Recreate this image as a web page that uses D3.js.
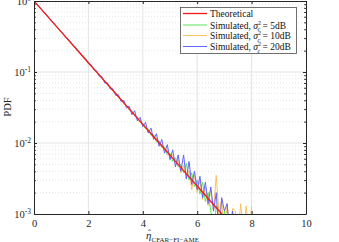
<!DOCTYPE html>
<html>
<head>
<meta charset="utf-8">
<script src="https://cdn.jsdelivr.net/npm/d3@7"></script>
<style>
  body { margin: 0; background: #fff; }
  svg { display: block; font-family: "Liberation Serif", "DejaVu Serif", serif; }
</style>
</head>
<body>
<div id="chart"></div>
<script>
var width = 339;
var height = 242;

// bin centres of the simulated histograms, step 0.1 from 0 to 8
var binX = d3.range(0, 81).map(function(i) { return i / 10; });

// theoretical curve, read at 0.5 steps
var theoX = [0, 0.5, 1, 1.5, 2, 2.5, 3, 3.5, 4, 4.5, 5, 5.5, 6, 6.5, 7];
var theoY = [1, 0.607, 0.368, 0.223, 0.135, 0.0821, 0.0498, 0.0302, 0.0183, 0.0111,
             0.00674, 0.00409, 0.00248, 0.00150, 0.00091];

var sim5 = [1.000,0.903,0.822,0.738,0.672,0.604,0.551,0.495,0.451,0.405,
            0.369,0.331,0.303,0.271,0.249,0.221,0.204,0.181,0.167,0.148,
            0.136,0.121,0.112,0.098,0.092,0.081,0.075,0.066,0.062,0.054,
            0.0505,0.0442,0.0415,0.0360,0.0340,0.0295,0.0280,0.0240,0.0230,0.0196,
            0.0190,0.0158,0.0156,0.0128,0.0130,0.0104,0.0108,0.0086,0.0088,0.0068,
            0.0072,0.0055,0.0062,0.0046,0.0050,0.0038,0.0052,0.0030,0.0038,0.0024,
            0.0030,0.0019,0.0028,0.0015,0.0020,0.0011,0.0005,0.0013,0.0010,0.0005,
            0.0011,0.0005,0.0005,0.0005,0.0005,0.0005,0.0005,0.0005,0.0005,0.0005,
            0.0005];

var sim10 = [1.002,0.906,0.816,0.744,0.668,0.609,0.547,0.499,0.447,0.409,
             0.366,0.335,0.299,0.275,0.245,0.225,0.200,0.185,0.163,0.152,
             0.133,0.124,0.109,0.102,0.089,0.084,0.072,0.069,0.059,0.056,
             0.0490,0.0462,0.0398,0.0380,0.0322,0.0312,0.0262,0.0256,0.0214,0.0210,
             0.0176,0.0172,0.0142,0.0142,0.0115,0.0118,0.0093,0.0097,0.0076,0.0081,
             0.0061,0.0068,0.0048,0.0058,0.0038,0.0049,0.0032,0.0041,0.0022,0.0036,
             0.0020,0.0030,0.0016,0.0024,0.0013,0.0022,0.0011,0.0035,0.0010,0.0016,
             0.0005,0.0014,0.0005,0.0012,0.0011,0.0005,0.0014,0.0005,0.0013,0.0005,
             0.0013];

var sim20 = [0.998,0.908,0.815,0.745,0.666,0.611,0.545,0.501,0.446,0.411,
             0.364,0.337,0.297,0.277,0.243,0.227,0.198,0.187,0.161,0.153,
             0.131,0.126,0.107,0.104,0.087,0.086,0.070,0.071,0.058,0.058,
             0.0470,0.0480,0.0385,0.0400,0.0312,0.0330,0.0250,0.0285,0.0205,0.0230,
             0.0170,0.0195,0.0138,0.0162,0.0112,0.0135,0.0090,0.0112,0.0072,0.0095,
             0.0058,0.0080,0.0046,0.0068,0.0040,0.0068,0.0031,0.0055,0.0026,0.0040,
             0.0022,0.0034,0.0017,0.0028,0.0014,0.0024,0.0011,0.0020,0.0005,0.0017,
             0.0011,0.0014,0.0005,0.0011,0.0005,0.0005,0.0005,0.0005,0.0005,0.0005,
             0.0005];

var xTicks = [0, 2, 4, 6, 8, 10];
var yTicks = [1, 0.1, 0.01, 0.001];
var yExp = ['0', '-1', '-2', '-3'];

var legendNames = ['Theoretical', '5dB', '10dB', '20dB'];
var colors = ['rgb(245,25,25)', 'rgb(90,230,90)', 'rgb(245,195,100)', 'rgb(100,100,255)'];

var pLeft = 34, pRight = 306, pTop = 1, pBottom = 214;

var x = d3.scaleLinear().domain([0, 10]).range([pLeft, pRight]);
var y = d3.scaleLog().domain([1e-3, 1]).range([pBottom, pTop]);

var svg = d3.select('#chart').append('svg')
    .attr('width', width)
    .attr('height', height);

svg.append('defs').append('clipPath').attr('id', 'clip')
    .append('rect')
    .attr('x', pLeft).attr('y', pTop)
    .attr('width', pRight - pLeft).attr('height', pBottom - pTop);

// minor grid (dotted)
var minorY = [];
[0.001, 0.01, 0.1].forEach(function(d) {
    for (var k = 2; k <= 9; k++) minorY.push(d * k);
});
svg.append('g').selectAll('line')
    .data(minorY).enter().append('line')
    .attr('x1', pLeft).attr('x2', pRight)
    .attr('y1', function(d) { return y(d); })
    .attr('y2', function(d) { return y(d); })
    .attr('stroke', '#dedede')
    .attr('stroke-width', 0.8)
    .attr('stroke-dasharray', '1,2');

// major grid
svg.append('g').selectAll('line')
    .data([2, 4, 6, 8]).enter().append('line')
    .attr('x1', function(d) { return x(d); })
    .attr('x2', function(d) { return x(d); })
    .attr('y1', pTop).attr('y2', pBottom)
    .attr('stroke', '#e3e3e3');
svg.append('g').selectAll('line')
    .data([0.1, 0.01]).enter().append('line')
    .attr('x1', pLeft).attr('x2', pRight)
    .attr('y1', function(d) { return y(d); })
    .attr('y2', function(d) { return y(d); })
    .attr('stroke', '#e3e3e3');

// curves
var line = d3.line()
    .x(function(d) { return x(d[0]); })
    .y(function(d) { return y(d[1]); });

var plot = svg.append('g').attr('clip-path', 'url(#clip)');
[sim5, sim10, sim20].forEach(function(s, i) {
    plot.append('path')
        .datum(binX.map(function(v, j) { return [v, s[j]]; }))
        .attr('d', line)
        .attr('fill', 'none')
        .attr('stroke', colors[i + 1])
        .attr('stroke-width', 1);
});
plot.append('path')
    .datum(theoX.map(function(v, j) { return [v, theoY[j]]; }))
    .attr('d', line)
    .attr('fill', 'none')
    .attr('stroke', colors[0])
    .attr('stroke-width', 1.3);

// axes
var axisColor = '#262626';
var xAxis = svg.append('g')
    .attr('transform', 'translate(0,' + pBottom + ')')
    .call(d3.axisBottom(x).tickValues(xTicks).tickSizeInner(-3).tickSizeOuter(0).tickPadding(6));
svg.append('g')
    .attr('transform', 'translate(0,' + pTop + ')')
    .call(d3.axisTop(x).tickValues(xTicks).tickSizeInner(-3).tickSizeOuter(0).tickFormat(''));

var yAll = yTicks.concat(minorY);
svg.append('g')
    .attr('transform', 'translate(' + pLeft + ',0)')
    .call(d3.axisLeft(y).tickValues(yAll).tickSizeInner(-3).tickSizeOuter(0).tickFormat(''));
svg.append('g')
    .attr('transform', 'translate(' + pRight + ',0)')
    .call(d3.axisRight(y).tickValues(yAll).tickSizeInner(-3).tickSizeOuter(0).tickFormat(''));

svg.selectAll('.domain').attr('stroke', axisColor);
svg.selectAll('.tick line').attr('stroke', axisColor);
svg.selectAll('.tick').filter(function(d) { return minorY.indexOf(d) >= 0; })
    .select('line').attr('x2', function() { return +d3.select(this).attr('x2') * 0.6; });
xAxis.selectAll('text')
    .attr('fill', axisColor)
    .style('font-family', '"Liberation Serif", serif')
    .style('font-size', '10.5px');

// y tick labels 10^n
yTicks.forEach(function(d, i) {
    var t = svg.append('text')
        .attr('x', 31)
        .attr('y', y(d) + 4)
        .attr('text-anchor', 'end')
        .attr('fill', axisColor)
        .style('font-size', '10.5px');
    t.append('tspan').text('10');
    t.append('tspan').attr('dy', -4).style('font-size', '7.5px').text(yExp[i]);
});

// axis titles
svg.append('text')
    .attr('transform', 'translate(11,107) rotate(-90)')
    .attr('text-anchor', 'middle')
    .attr('fill', axisColor)
    .style('font-size', '10.5px')
    .text('PDF');

var xl = svg.append('text')
    .attr('x', 146)
    .attr('y', 239)
    .attr('fill', axisColor)
    .style('font-size', '11px');
xl.append('tspan').style('font-style', 'italic').text('η');
xl.append('tspan').attr('dy', 3).style('font-size', '7px').text('CFAR\u2212FI\u2212AME');
svg.append('text')
    .attr('x', 149.5)
    .attr('y', 236)
    .attr('text-anchor', 'middle')
    .attr('fill', axisColor)
    .style('font-size', '9px')
    .text('\u02C6');

// legend
var lg = svg.append('g');
lg.append('rect')
    .attr('x', 180.5).attr('y', 7.5)
    .attr('width', 116).attr('height', 46)
    .attr('fill', '#fff')
    .attr('stroke', '#4d4d4d')
    .attr('stroke-width', 0.8);
var rowY = [13.5, 25, 35.5, 46.5];
legendNames.forEach(function(name, i) {
    lg.append('line')
        .attr('x1', 183).attr('x2', 207)
        .attr('y1', rowY[i]).attr('y2', rowY[i])
        .attr('stroke', colors[i])
        .attr('stroke-width', i === 0 ? 1.3 : 1);
    var t = lg.append('text')
        .attr('x', 210)
        .attr('y', rowY[i] + 3.5)
        .attr('fill', '#111')
        .style('font-size', '9.5px');
    if (i === 0) {
        t.text(name);
    } else {
        t.append('tspan').text('Simulated, ');
        t.append('tspan').style('font-style', 'italic').text('σ');
        t.append('tspan').attr('dy', -4).style('font-size', '6px').text('2');
        t.append('tspan').attr('dx', -3.5).attr('dy', 6.5).style('font-size', '6px').style('font-style', 'italic').text('c');
        t.append('tspan').attr('dy', -2.5).text(' = ' + name);
    }
});
</script>
</body>
</html>
